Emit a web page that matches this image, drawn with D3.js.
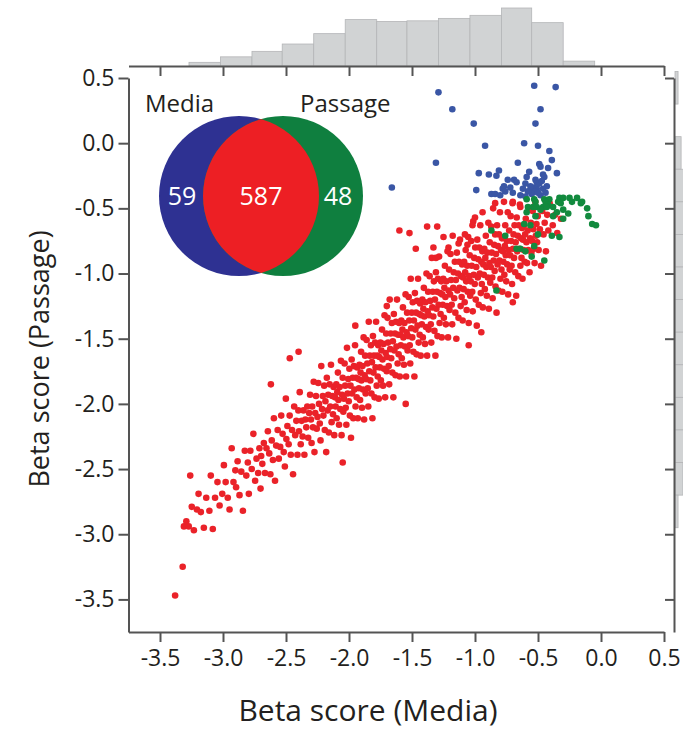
<!DOCTYPE html>
<html>
<head>
<meta charset="utf-8">
<script src="https://cdn.jsdelivr.net/npm/d3@7"></script>
<style>
  body { margin: 0; background: #fff; }
  svg { display: block; }
  text { font-family: "Open Sans", sans-serif; }
</style>
</head>
<body>
<div class="viz"></div>
<script>
// genes hit in both screens (red), media only (blue), passage only (green)
const bothPts = [
  [-3.38,-3.47],[-3.32,-3.25],[-3.31,-2.94],
  [-3.291,-2.90],[-3.272,-2.94],[-3.248,-2.79],[-3.231,-2.97],[-3.207,-2.81],
  [-3.194,-2.69],[-3.176,-2.83],[-3.152,-2.95],[-3.133,-2.72],[-3.108,-2.82],
  [-3.097,-2.55],[-3.081,-2.96],[-3.063,-2.72],[-3.044,-2.60],[-3.027,-2.78],[-3.006,-2.69],
  [-2.993,-2.47],[-2.979,-2.60],[-2.962,-2.72],[-2.948,-2.81],[-2.931,-2.34],[-2.917,-2.60],[-2.902,-2.51],
  [-2.896,-2.64],[-2.884,-2.44],[-2.869,-2.70],[-2.855,-2.52],[-2.842,-2.82],[-2.827,-2.36],[-2.815,-2.55],[-2.803,-2.45],
  [-2.795,-2.69],[-2.783,-2.36],[-2.772,-2.50],[-2.759,-2.23],[-2.745,-2.59],[-2.734,-2.42],[-2.721,-2.53],[-2.711,-2.34],[-2.702,-2.65],
  [-2.697,-2.40],[-2.688,-2.46],[-2.676,-2.30],[-2.667,-2.53],[-2.655,-2.34],[-2.644,-2.21],[-2.633,-2.38],[-2.624,-2.54],[-2.613,-2.28],[-2.604,-2.43],
  [-2.596,-2.11],[-2.587,-2.59],[-2.578,-2.32],[-2.566,-2.20],[-2.557,-2.42],[-2.546,-2.33],[-2.538,-2.09],[-2.527,-2.23],[-2.518,-2.37],[-2.509,-2.48],[-2.501,-1.96],
  [-2.497,-2.27],[-2.489,-2.17],[-2.479,-2.31],[-2.471,-2.09],[-2.462,-2.39],[-2.452,-2.20],[-2.444,-2.54],[-2.435,-2.02],[-2.427,-2.24],[-2.418,-2.13],[-2.409,-2.39],[-2.402,-2.05],
  [-2.397,-2.21],[-2.391,-1.91],[-2.383,-2.31],[-2.376,-2.13],[-2.368,-2.25],[-2.361,-2.05],[-2.354,-2.39],[-2.346,-2.12],[-2.339,-2.18],[-2.331,-2.02],[-2.324,-2.26],[-2.316,-2.07],[-2.309,-1.93],[-2.302,-2.12],
  [-2.297,-2.30],[-2.292,-2.02],[-2.286,-2.18],[-2.280,-1.83],[-2.274,-2.37],[-2.268,-2.07],[-2.262,-1.94],[-2.256,-2.19],[-2.250,-2.10],[-2.244,-1.84],[-2.238,-2.00],[-2.232,-2.15],[-2.226,-2.28],[-2.220,-1.71],[-2.214,-2.04],[-2.208,-1.94],[-2.203,-2.09],
  [-2.197,-1.86],[-2.192,-2.20],[-2.187,-1.98],[-2.181,-2.37],[-2.176,-1.80],[-2.170,-2.05],[-2.165,-1.93],[-2.160,-2.22],[-2.154,-1.85],[-2.149,-2.02],[-2.143,-1.70],[-2.138,-2.14],[-2.133,-1.94],[-2.127,-2.08],[-2.122,-1.87],[-2.117,-2.24],[-2.111,-1.95],[-2.106,-2.02],[-2.101,-1.85],
  [-2.098,-2.11],[-2.093,-1.91],[-2.088,-1.76],[-2.084,-1.97],[-2.079,-2.16],[-2.074,-1.87],[-2.069,-2.04],[-2.064,-1.67],[-2.059,-2.24],[-2.055,-1.93],[-2.050,-1.80],[-2.045,-2.06],[-2.040,-1.96],[-2.035,-1.69],[-2.030,-1.86],[-2.026,-2.03],[-2.021,-2.16],[-2.016,-1.57],[-2.011,-1.92],[-2.006,-1.81],[-2.002,-1.98],
  [-1.997,-1.73],[-1.993,-2.09],[-1.988,-1.86],[-1.984,-2.26],[-1.979,-1.66],[-1.975,-1.92],[-1.970,-1.80],[-1.966,-2.11],[-1.961,-1.71],[-1.957,-1.89],[-1.952,-1.55],[-1.948,-2.02],[-1.944,-1.80],[-1.939,-1.95],[-1.935,-1.72],[-1.930,-2.11],[-1.926,-1.81],[-1.921,-1.88],[-1.917,-1.70],[-1.912,-1.97],[-1.908,-1.76],[-1.904,-1.60],[-1.901,-1.82],
  [-1.897,-2.03],[-1.893,-1.71],[-1.889,-1.89],[-1.884,-1.49],[-1.880,-2.12],[-1.876,-1.78],[-1.872,-1.63],[-1.868,-1.92],[-1.864,-1.81],[-1.860,-1.51],[-1.855,-1.69],[-1.851,-1.88],[-1.847,-2.02],[-1.843,-1.37],[-1.839,-1.75],[-1.835,-1.63],[-1.831,-1.82],[-1.826,-1.55],[-1.822,-1.92],[-1.818,-1.68],[-1.814,-2.11],[-1.810,-1.48],[-1.806,-1.76],[-1.802,-1.63],
  [-1.797,-1.95],[-1.793,-1.53],[-1.789,-1.72],[-1.785,-1.37],[-1.780,-1.86],[-1.776,-1.63],[-1.772,-1.79],[-1.768,-1.55],[-1.764,-1.96],[-1.759,-1.64],[-1.755,-1.72],[-1.751,-1.53],[-1.747,-1.82],[-1.743,-1.59],[-1.738,-1.43],[-1.734,-1.66],[-1.730,-1.86],[-1.726,-1.54],[-1.722,-1.73],[-1.718,-1.32],[-1.713,-1.95],[-1.709,-1.61],[-1.705,-1.46],[-1.701,-1.75],
  [-1.698,-1.64],[-1.694,-1.34],[-1.690,-1.53],[-1.685,-1.71],[-1.681,-1.85],[-1.677,-1.20],[-1.673,-1.58],[-1.669,-1.46],[-1.665,-1.65],[-1.660,-1.38],[-1.656,-1.76],[-1.652,-1.52],[-1.648,-1.95],[-1.644,-1.31],[-1.640,-1.59],[-1.635,-1.46],[-1.631,-1.78],[-1.627,-1.37],[-1.623,-1.56],[-1.619,-1.20],[-1.614,-1.69],[-1.610,-1.47],[-1.606,-1.62],[-1.602,-1.38],
  [-1.597,-1.79],[-1.593,-1.47],[-1.589,-1.55],[-1.585,-1.36],[-1.581,-1.65],[-1.576,-1.43],[-1.572,-1.26],[-1.568,-1.49],[-1.564,-1.70],[-1.560,-1.38],[-1.556,-1.56],[-1.551,-1.16],[-1.547,-1.79],[-1.543,-1.45],[-1.539,-1.30],[-1.535,-1.59],[-1.531,-1.48],[-1.526,-1.18],[-1.522,-1.36],[-1.518,-1.55],[-1.514,-1.69],[-1.510,-1.04],[-1.506,-1.42],[-1.502,-1.30],
  [-1.498,-1.49],[-1.494,-1.22],[-1.489,-1.60],[-1.485,-1.36],[-1.481,-1.79],[-1.477,-1.15],[-1.473,-1.43],[-1.468,-1.30],[-1.464,-1.62],[-1.460,-1.21],[-1.456,-1.40],[-1.452,-1.04],[-1.447,-1.53],[-1.443,-1.31],[-1.439,-1.47],[-1.435,-1.23],[-1.431,-1.63],[-1.427,-1.32],[-1.422,-1.39],[-1.418,-1.20],[-1.414,-1.49],[-1.410,-1.27],[-1.406,-1.11],[-1.402,-1.33],
  [-1.397,-1.54],[-1.393,-1.22],[-1.389,-1.41],[-1.385,-1.00],[-1.380,-1.63],[-1.376,-1.29],[-1.372,-1.14],[-1.368,-1.43],[-1.364,-1.32],[-1.360,-1.02],[-1.356,-1.21],[-1.351,-1.39],[-1.347,-1.53],[-1.343,-0.88],[-1.339,-1.26],[-1.335,-1.14],[-1.331,-1.33],[-1.326,-1.06],[-1.322,-1.44],[-1.318,-1.20],[-1.314,-1.63],[-1.310,-0.99],[-1.306,-1.27],[-1.302,-1.14],
  [-1.298,-1.48],[-1.294,-1.04],[-1.289,-1.24],[-1.285,-0.87],[-1.281,-1.38],[-1.277,-1.15],[-1.273,-1.31],[-1.268,-1.06],[-1.264,-1.49],[-1.260,-1.16],[-1.256,-1.24],[-1.252,-1.04],[-1.247,-1.34],[-1.243,-1.11],[-1.239,-0.94],[-1.235,-1.18],[-1.231,-1.39],[-1.227,-1.06],[-1.222,-1.25],[-1.218,-0.83],[-1.214,-1.49],[-1.210,-1.13],[-1.206,-0.97],[-1.202,-1.28],
  [-1.198,-1.16],[-1.194,-0.85],[-1.190,-1.05],[-1.185,-1.24],[-1.181,-1.39],[-1.177,-0.71],[-1.173,-1.11],[-1.169,-0.99],[-1.165,-1.19],[-1.160,-0.91],[-1.156,-1.30],[-1.152,-1.05],[-1.148,-1.50],[-1.144,-0.84],[-1.140,-1.13],[-1.135,-1.00],[-1.131,-1.34],[-1.127,-0.91],[-1.123,-1.11],[-1.119,-0.74],[-1.114,-1.25],[-1.110,-1.02],[-1.106,-1.18],[-1.102,-0.93],
  [-1.098,-1.36],[-1.094,-1.03],[-1.090,-1.12],[-1.086,-0.91],[-1.082,-1.22],[-1.078,-0.99],[-1.074,-0.82],[-1.070,-1.06],[-1.066,-1.28],[-1.062,-0.94],[-1.058,-1.14],[-1.054,-0.72],[-1.050,-1.38],[-1.046,-1.02],[-1.042,-0.86],[-1.038,-1.17],[-1.034,-1.06],[-1.030,-0.75],[-1.026,-0.94],[-1.022,-1.14],[-1.018,-1.29],[-1.014,-0.60],[-1.010,-1.01],[-1.006,-0.88],[-1.002,-1.08],
  [-0.998,-0.80],[-0.994,-1.20],[-0.990,-0.95],[-0.986,-1.40],[-0.982,-0.74],[-0.978,-1.03],[-0.974,-0.89],[-0.970,-1.24],[-0.966,-0.80],[-0.962,-1.00],[-0.958,-0.63],[-0.954,-1.15],[-0.950,-0.91],[-0.946,-1.08],[-0.942,-0.83],[-0.938,-1.26],[-0.934,-0.93],[-0.930,-1.01],[-0.926,-0.81],[-0.922,-1.12],[-0.918,-0.88],[-0.914,-0.71],[-0.910,-0.95],[-0.906,-1.17],[-0.902,-0.84],
  [-0.898,-1.03],[-0.894,-0.61],[-0.890,-1.27],[-0.886,-0.92],[-0.883,-0.76],[-0.879,-1.07],[-0.875,-0.95],[-0.871,-0.64],[-0.867,-0.84],[-0.863,-1.03],[-0.860,-1.19],[-0.856,-0.50],[-0.852,-0.90],[-0.848,-0.78],[-0.844,-0.98],[-0.840,-0.70],[-0.837,-1.10],[-0.833,-0.85],[-0.829,-1.30],[-0.825,-0.63],[-0.821,-0.93],[-0.817,-0.79],[-0.814,-1.13],[-0.810,-0.70],[-0.806,-0.90],[-0.802,-0.53],
  [-0.798,-1.04],[-0.794,-0.82],[-0.790,-0.97],[-0.786,-0.73],[-0.783,-1.14],[-0.779,-0.83],[-0.775,-0.91],[-0.771,-0.72],[-0.767,-1.01],[-0.763,-0.79],[-0.760,-0.63],[-0.756,-0.86],[-0.752,-1.06],[-0.748,-0.75],[-0.744,-0.93],[-0.740,-0.53],[-0.737,-1.16],[-0.733,-0.82],[-0.729,-0.67],[-0.725,-0.97],[-0.721,-0.86],[-0.717,-0.56],[-0.714,-0.75],[-0.710,-0.94],[-0.706,-1.08],[-0.702,-0.46],
  [-0.698,-0.81],[-0.694,-0.70],[-0.690,-0.88],[-0.686,-0.63],[-0.681,-0.99],[-0.677,-0.76],[-0.673,-1.17],[-0.669,-0.57],[-0.665,-0.83],[-0.660,-0.71],[-0.656,-1.02],[-0.652,-0.63],[-0.648,-0.81],[-0.644,-0.47],[-0.640,-0.94],[-0.635,-0.73],[-0.631,-0.88],[-0.627,-0.65],[-0.623,-1.04],[-0.619,-0.74],[-0.614,-0.82],[-0.610,-0.63],[-0.606,-0.91],[-0.602,-0.70],
  [-0.597,-0.58],[-0.592,-0.76],[-0.587,-0.92],[-0.582,-0.67],[-0.577,-0.82],[-0.572,-0.50],[-0.567,-0.99],[-0.562,-0.73],[-0.557,-0.61],[-0.552,-0.84],[-0.547,-0.75],[-0.542,-0.52],[-0.537,-0.66],[-0.532,-0.81],[-0.527,-0.92],[-0.522,-0.45],[-0.517,-0.71],[-0.512,-0.62],[-0.507,-0.76],[-0.502,-0.56],
  [-0.495,-0.82],[-0.485,-0.66],[-0.476,-0.94],[-0.466,-0.52],[-0.456,-0.70],[-0.447,-0.61],[-0.437,-0.83],[-0.427,-0.55],[-0.418,-0.67],[-0.408,-0.46],
  [-0.383,-0.63],[-0.364,-0.55],[-0.347,-0.69],[-0.318,-0.58],
  [-3.26,-2.55],[-1.60,-0.67],[-1.52,-0.69],[-1.38,-0.64],[-1.30,-0.64],[-1.47,-0.81],[-1.33,-0.80],[-1.31,-0.88],[-1.25,-0.72],[-1.21,-0.80],
  [-1.13,-0.77],[-1.08,-0.70],[-1.06,-0.78],[-1.00,-0.57],[-1.02,-0.63],[-0.94,-0.53],[-0.84,-0.46],[-0.77,-0.45],[-0.70,-0.45],[-0.64,-0.49],
  [-2.47,-1.65],[-2.40,-1.60],[-2.62,-1.85],[-1.95,-1.40],[-1.70,-1.25],[-0.95,-1.45],[-0.70,-1.22],[-1.05,-1.55],[-2.05,-2.45],[-1.55,-2.00]
];

const mediaPts = [
  [-0.53,0.44],[-0.36,0.43],[-1.29,0.39],[-1.18,0.26],[-0.48,0.26],[-1.01,0.15],[-0.52,0.15],[-0.92,-0.02],[-0.61,0.00],[-0.50,-0.02],
  [-0.41,-0.06],[-1.31,-0.15],[-0.39,-0.13],[-0.66,-0.15],[-0.49,-0.16],[-0.48,-0.18],[-0.42,-0.19],[-0.35,-0.23],[-0.46,-0.24],[-0.45,-0.26],
  [-0.97,-0.23],[-0.89,-0.24],[-0.83,-0.25],[-0.81,-0.21],[-0.74,-0.28],[-0.69,-0.28],[-0.67,-0.30],[-0.59,-0.26],[-0.60,-0.31],[-0.52,-0.28],
  [-0.51,-0.30],[-1.66,-0.34],[-0.99,-0.36],[-0.77,-0.33],[-0.78,-0.35],[-0.53,-0.34],[-0.51,-0.35],[-0.54,-0.36],[-0.52,-0.37],[-0.46,-0.35],
  [-0.44,-0.38],[-0.87,-0.39],[-0.84,-0.39],[-0.76,-0.37],[-0.64,-0.40],[-0.56,-0.33],[-0.49,-0.31],[-0.55,-0.39],[-0.48,-0.40],[-0.58,-0.37],
  [-0.62,-0.35],[-0.70,-0.38],[-0.72,-0.34],[-0.57,-0.22],[-0.47,-0.29],[-0.43,-0.33],[-0.50,-0.38],[-0.80,-0.40],[-0.60,-0.41]
];

const passagePts = [
  [-0.59,-0.43],[-0.53,-0.43],[-0.52,-0.45],[-0.45,-0.43],[-0.41,-0.43],[-0.44,-0.45],[-0.42,-0.47],[-0.33,-0.42],[-0.30,-0.42],[-0.34,-0.45],
  [-0.32,-0.46],[-0.25,-0.42],[-0.19,-0.42],[-0.23,-0.45],[-0.16,-0.46],[-0.15,-0.45],[-0.11,-0.50],[-0.10,-0.56],[-0.07,-0.62],[-0.04,-0.63],
  [-0.58,-0.49],[-0.54,-0.49],[-0.51,-0.49],[-0.46,-0.49],[-0.43,-0.49],[-0.59,-0.53],[-0.52,-0.56],[-0.48,-0.51],[-0.38,-0.49],[-0.35,-0.53],
  [-0.30,-0.51],[-0.38,-0.56],[-0.30,-0.58],[-0.26,-0.54],[-0.61,-0.62],[-0.56,-0.63],[-0.87,-0.67],[-0.76,-0.71],[-0.50,-0.70],[-0.39,-0.71],
  [-0.33,-0.72],[-0.53,-0.79],[-0.67,-0.81],[-0.64,-0.81],[-0.60,-0.83],[-0.55,-0.87],[-0.45,-0.90],[-0.83,-1.13]
];

// marginal histogram of Media scores (top)
const topBinEdges = [-3.27, -3.02, -2.77, -2.53, -2.28, -2.03, -1.78, -1.54, -1.29, -1.04, -0.79, -0.55, -0.30, -0.05];
const topCounts = [6, 15, 24, 36, 53, 76, 73, 74, 78, 83, 95, 71, 8];

// marginal histogram of Passage scores (right, mostly cut off)
const rightBinEdges = [0.55, 0.30, 0.05, -0.20, -0.45, -0.70, -0.95, -1.20, -1.45, -1.70, -1.95, -2.20, -2.45, -2.70, -2.95];
const rightCounts = [5, 0, 10, 45, 80, 90, 85, 80, 75, 60, 50, 35, 13, 5];

const tickVals = [-3.5, -3.0, -2.5, -2.0, -1.5, -1.0, -0.5, 0.0, 0.5];

const vennSets = ["Media", "Passage"];
const vennCounts = [59, 587, 48];

const width = 683, height = 729;
const axisColor = "#545454";

const svg = d3.select(".viz").append("svg")
  .attr("width", width)
  .attr("height", height);

const x = d3.scaleLinear().domain([-3.75, 0.5]).range([128.5, 664]);
const y = d3.scaleLinear().domain([-3.75, 0.5]).range([632, 78]);
const hScale = d3.scaleLinear().domain([0, 95]).range([0, 58]);

function styleAxis(g, fontSize) {
  g.select(".domain").attr("stroke", axisColor).attr("stroke-width", 2);
  g.selectAll(".tick line").attr("stroke", axisColor).attr("stroke-width", 2);
  g.selectAll(".tick text")
    .attr("fill", "#231f20")
    .style("font-size", fontSize + "px")
    .style("font-family", "'Open Sans', sans-serif");
}

// top histogram
svg.append("g").selectAll("rect")
  .data(topCounts)
  .join("rect")
  .attr("x", (d, i) => x(topBinEdges[i]))
  .attr("width", (d, i) => x(topBinEdges[i + 1]) - x(topBinEdges[i]))
  .attr("y", d => 66 - hScale(d))
  .attr("height", d => hScale(d))
  .attr("fill", "#d1d3d4")
  .attr("stroke", "#b4b5b7")
  .attr("stroke-width", 0.8);

svg.append("g")
  .attr("transform", "translate(0,66)")
  .call(d3.axisBottom(x).tickValues(tickVals).tickSize(10).tickSizeOuter(0).tickFormat(""))
  .call(g => styleAxis(g, 1));

// right histogram
svg.append("g").selectAll("rect")
  .data(rightCounts)
  .join("rect")
  .attr("x", 675)
  .attr("y", (d, i) => y(rightBinEdges[i]))
  .attr("height", (d, i) => y(rightBinEdges[i + 1]) - y(rightBinEdges[i]))
  .attr("width", d => hScale(d))
  .attr("fill", "#d1d3d4")
  .attr("stroke", "#b4b5b7")
  .attr("stroke-width", d => d > 0 ? 0.8 : 0);

svg.append("g")
  .attr("transform", "translate(674,0)")
  .call(d3.axisLeft(y).tickValues(tickVals).tickSize(9).tickSizeOuter(0).tickFormat(""))
  .call(g => styleAxis(g, 1));

// main axes
svg.append("g")
  .attr("transform", "translate(0,632)")
  .call(d3.axisBottom(x).tickValues(tickVals).tickSize(10).tickSizeOuter(0).tickPadding(8).tickFormat(d3.format(".1f")))
  .call(g => styleAxis(g, 23));

svg.append("g")
  .attr("transform", "translate(128.5,0)")
  .call(d3.axisLeft(y).tickValues(tickVals).tickSize(10).tickSizeOuter(0).tickPadding(4).tickFormat(d3.format(".1f")))
  .call(g => styleAxis(g, 23));

// hyphen instead of unicode minus, like the original figure
svg.selectAll(".tick text").text(function () { return this.textContent.replace("\u2212", "-"); });

svg.append("text")
  .attr("x", 368).attr("y", 721)
  .attr("text-anchor", "middle")
  .attr("fill", "#231f20")
  .style("font-size", "30px")
  .text("Beta score (Media)");

svg.append("text")
  .attr("transform", "translate(49,359) rotate(-90)")
  .attr("text-anchor", "middle")
  .attr("fill", "#231f20")
  .style("font-size", "27px")
  .text("Beta score (Passage)");

// scatter
const layers = [
  { data: bothPts, color: "#ea2229" },
  { data: mediaPts, color: "#3a56a5" },
  { data: passagePts, color: "#128a3e" }
];
layers.forEach(l => {
  svg.append("g").selectAll("circle")
    .data(l.data)
    .join("circle")
    .attr("cx", d => x(d[0]))
    .attr("cy", d => y(d[1]))
    .attr("r", 3.3)
    .attr("fill", l.color);
});

// venn inset
const venn = { cx1: 239, cx2: 283, cy: 196, r: 80 };
const vg = svg.append("g");
vg.append("defs").append("clipPath").attr("id", "leftClip")
  .append("circle").attr("cx", venn.cx1).attr("cy", venn.cy).attr("r", venn.r);
vg.append("circle").attr("cx", venn.cx1).attr("cy", venn.cy).attr("r", venn.r).attr("fill", "#2e3192");
vg.append("circle").attr("cx", venn.cx2).attr("cy", venn.cy).attr("r", venn.r).attr("fill", "#0f7f3f");
vg.append("circle").attr("cx", venn.cx2).attr("cy", venn.cy).attr("r", venn.r)
  .attr("fill", "#ed1f24").attr("clip-path", "url(#leftClip)");

vg.append("text").attr("x", 145).attr("y", 112).attr("fill", "#231f20")
  .style("font-size", "24px").text(vennSets[0]);
vg.append("text").attr("x", 300).attr("y", 112).attr("fill", "#231f20")
  .style("font-size", "24px").text(vennSets[1]);

const countX = [182, 261, 338];
vg.selectAll("text.cnt")
  .data(vennCounts)
  .join("text")
  .attr("class", "cnt")
  .attr("x", (d, i) => countX[i])
  .attr("y", 205)
  .attr("text-anchor", "middle")
  .attr("fill", "#fff")
  .style("font-size", "25px")
  .text(d => d);
</script>
</body>
</html>
